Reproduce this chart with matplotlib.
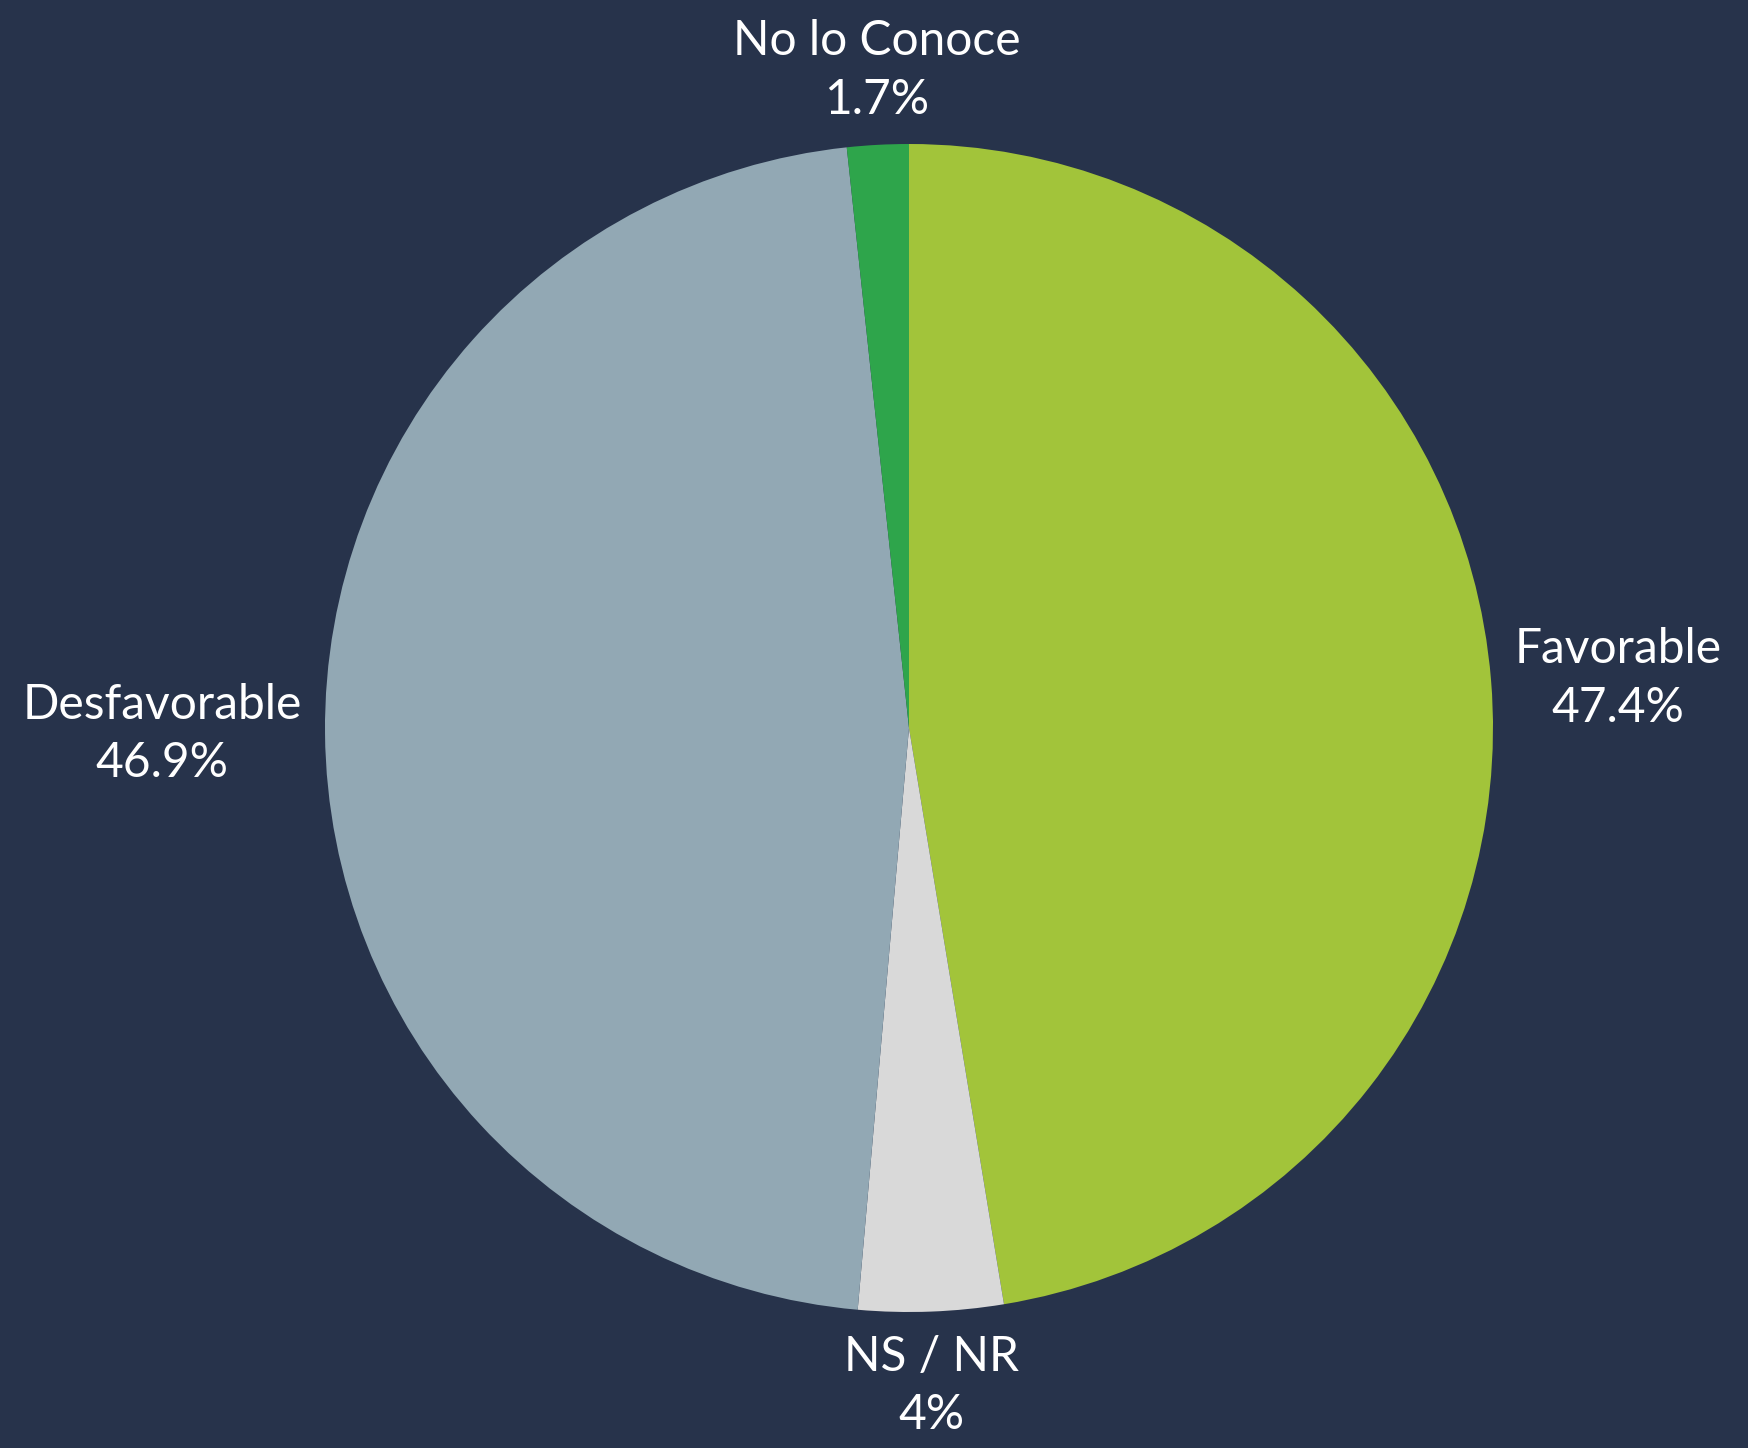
import matplotlib
matplotlib.use('Agg')
import matplotlib.pyplot as plt

# Data
categories = ['Favorable', 'NS / NR', 'Desfavorable', 'No lo Conoce']
values = [47.4, 4.0, 46.9, 1.7]
value_labels = ['47.4%', '4%', '46.9%', '1.7%']
colors = ['#a2c43a', '#d9d9d9', '#92a8b4', '#2ea54b']

bg = '#27334b'
plt.rcParams['font.family'] = ['Lato', 'DejaVu Sans']

fig = plt.figure(figsize=(17.48, 14.48), dpi=100, facecolor=bg)
ax = fig.add_axes([0, 0, 1, 1])
ax.set_facecolor(bg)

labels = [f'{c}\n{v}' for c, v in zip(categories, value_labels)]
wedges, texts = ax.pie(values, labels=labels, colors=colors, startangle=90,
                       counterclock=False, center=(909, 720), radius=584,
                       labeldistance=1.04, frame=True,
                       wedgeprops=dict(linewidth=0),
                       textprops=dict(color='white', fontsize=34.5,
                                      linespacing=1.4,
                                      multialignment='center'))
ax.set_xlim(0, 1748)
ax.set_ylim(0, 1448)
ax.set_aspect('equal')
ax.axis('off')

# Put labels against the pie edge like the original
for t in texts:
    x, y = t.get_position()
    dx, dy = x - 909, y - 720
    if abs(dx) < 0.3 * abs(dy):
        t.set_ha('center')
        t.set_va('bottom' if dy > 0 else 'top')
    else:
        t.set_ha('left' if dx > 0 else 'right')
        t.set_va('center')

fig.savefig('out.png', dpi=100, facecolor=bg)
